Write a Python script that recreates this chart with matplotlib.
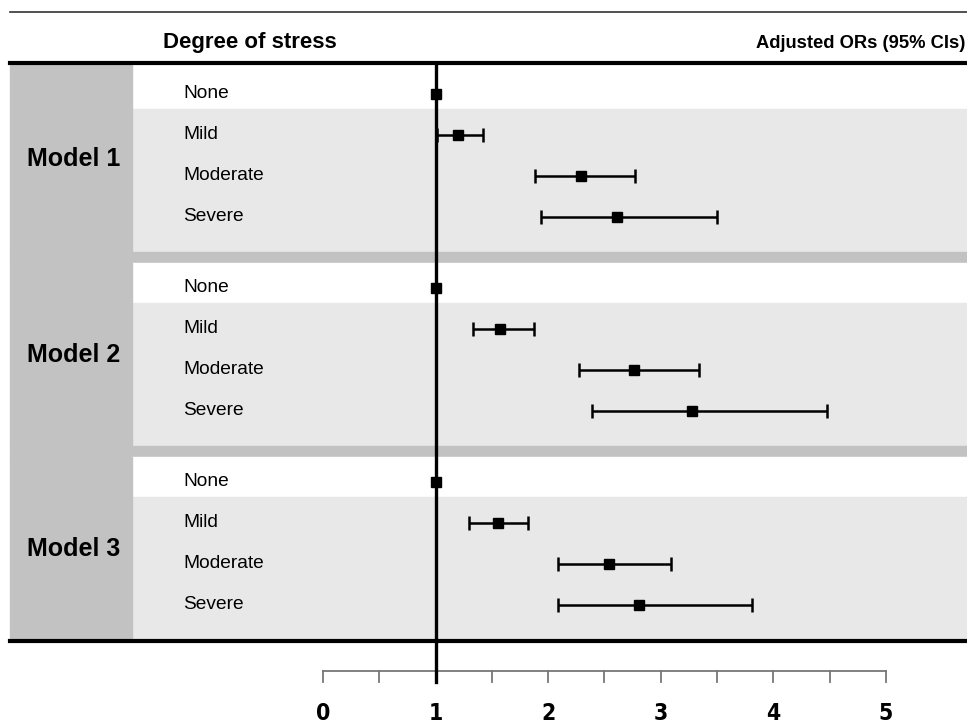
import numpy as np
import matplotlib.pyplot as plt

plt.rcParams['font.family'] = ['Liberation Sans', 'DejaVu Sans']

models = ["Model 1", "Model 2", "Model 3"]
levels = ["None", "Mild", "Moderate", "Severe"]
or_est = [[1.0, 1.20, 2.29, 2.61],
          [1.0, 1.57, 2.76, 3.28],
          [1.0, 1.55, 2.54, 2.81]]
ci_low = [[1.0, 1.01, 1.88, 1.94],
          [1.0, 1.33, 2.27, 2.39],
          [1.0, 1.30, 2.09, 2.09]]
ci_high = [[1.0, 1.42, 2.77, 3.50],
           [1.0, 1.87, 3.34, 4.48],
           [1.0, 1.82, 3.09, 3.81]]
tick_vals = [0, 1, 2, 3, 4, 5]

W, H = 967, 723
x0_px, unit_px = 323, 112.6   # pixel of OR=0 and pixels per OR unit


def px(x):
    # pixel column -> OR units on the shared axes
    return (x - x0_px) / unit_px


fig = plt.figure(figsize=(W / 100, H / 100), dpi=100)
ax = fig.add_axes([0, 0, 1, 1])
ax.set_xlim(px(0), px(W))
ax.set_ylim(H, 0)
ax.axis('off')

col_l, col_r = 10 / W, 132 / W
row_gap, block_gap = 41, 194
sep = '#c2c2c2'

for b in range(len(models)):
    row0 = 93.5 + block_gap * b
    top = 65 if b == 0 else row0 - 24.5
    white_end = row0 + 15
    gray_end = row0 + 3 * row_gap + 35
    ax.axhspan(top, white_end, xmin=col_r, xmax=1, color='white', zorder=0)
    ax.axhspan(white_end, gray_end, xmin=col_r, xmax=1, color='#e8e8e8', zorder=0)
    ax.axhspan(top, gray_end, xmin=col_l, xmax=col_r, color=sep, zorder=0)
    if b < len(models) - 1:
        ax.axhspan(gray_end, row0 + block_gap - 24.5, xmin=col_l, xmax=1,
                   color=sep, zorder=0)
    ax.text(px(74), (top + gray_end) / 2 + 1, models[b], ha='center', va='center',
            fontsize=18, fontweight='bold')

    for r, lev in enumerate(levels):
        y = row0 + r * row_gap
        ax.text(px(183), y, lev, ha='left', va='center', fontsize=13.8)
        est = or_est[b][r]
        lo, hi = ci_low[b][r], ci_high[b][r]
        if hi > lo:
            ax.errorbar(est, y, xerr=[[est - lo], [hi - est]], fmt='none',
                        ecolor='black', elinewidth=1.8, capsize=5,
                        capthick=1.8, zorder=5)
        ax.plot(est, y, marker='s', color='black', markersize=6.5, zorder=6)

# horizontal rules
ax.plot([px(10), px(W)], [11.5, 11.5], color='#333333', lw=1.2, zorder=3)
ax.plot([px(10), px(W)], [63, 63], color='black', lw=3, zorder=3)
ax.plot([px(10), px(W)], [641, 641], color='black', lw=3, zorder=3)

ax.text(px(163), 42.5, "Degree of stress", ha='left', va='center',
        fontsize=16, fontweight='bold')
ax.text(px(965), 43.5, "Adjusted ORs (95% CIs)", ha='right', va='center',
        fontsize=13.2, fontweight='bold')

# reference line at OR = 1
ax.plot([1, 1], [64, 682], color='black', lw=2.4, zorder=4)

# bottom scale
ax.plot([0, 5], [671, 671], color='#777777', lw=1.3, zorder=3)
for t in np.arange(0, 5.01, 0.5):
    ax.plot([t, t], [671, 682], color='#777777', lw=1.3, zorder=3)
for t in tick_vals:
    ax.text(t, 719.5, str(t), ha='center', va='baseline', fontsize=16.5,
            fontweight='bold', fontstretch='condensed',
            family=['Liberation Sans Narrow', 'DejaVu Sans'])

fig.savefig('out.png', dpi=100)
